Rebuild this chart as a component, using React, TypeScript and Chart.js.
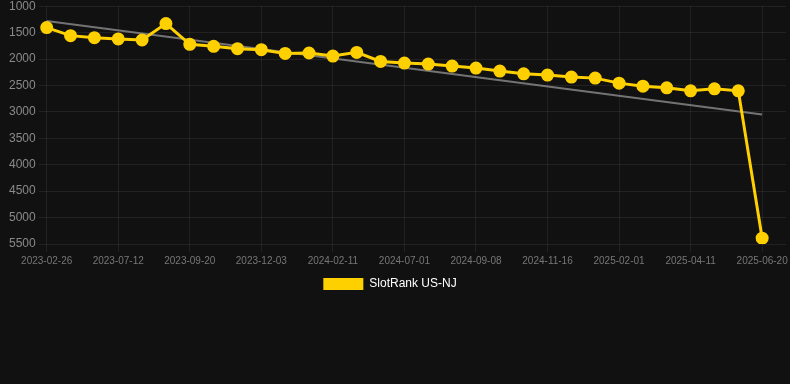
import React, { useEffect, useRef } from "react";
import { Chart, registerables } from "chart.js";

Chart.register(...registerables);

const dates: string[] = [
  "2023-02-26", "2023-05-14", "2023-06-19", "2023-07-12", "2023-08-04", "2023-08-27",
  "2023-09-20", "2023-10-14", "2023-11-08", "2023-12-03", "2023-12-26", "2024-01-18",
  "2024-02-11", "2024-04-18", "2024-06-07", "2024-07-01", "2024-07-24", "2024-08-16",
  "2024-09-08", "2024-10-01", "2024-10-24", "2024-11-16", "2024-12-12", "2025-01-07",
  "2025-02-01", "2025-02-24", "2025-03-19", "2025-04-11", "2025-05-04", "2025-05-27",
  "2025-06-20", "2025-07-13",
];

const rankValues: (number | null)[] = [
  1405, 1557, 1595, 1620, 1640, 1329, 1722, 1760, 1804, 1823, 1893, 1886, 1944, 1874,
  2045, 2076, 2095, 2133, 2171, 2228, 2279, 2304, 2342, 2361, 2456, 2513, 2545, 2601,
  2563, 2601, 5390, null,
];

const trendStart = 1280;
const trendEnd = 3050;
const trendEndIndex = 30;

const seriesLabel = "SlotRank US-NJ";

const legendShift = {
  id: "legendShift",
  afterLayout(chart: any) {
    const lg = chart.legend;
    if (!lg) return;
    lg.left -= 10;
    lg.right -= 10;
    lg.top -= 2;
    lg.bottom -= 2;
  },
};

export default function App() {
  const ref = useRef<HTMLCanvasElement | null>(null);

  useEffect(() => {
    document.body.style.margin = "0";
    document.body.style.background = "#111111";
    if (!ref.current) return;
    const trend: (number | null)[] = dates.map((_, i) =>
      i === 0 ? trendStart : i === trendEndIndex ? trendEnd : null
    );
    const chart = new Chart(ref.current, {
      type: "line",
      data: {
        labels: dates,
        datasets: [
          {
            label: seriesLabel,
            data: rankValues,
            borderColor: "#ffd000",
            backgroundColor: "#ffd000",
            borderWidth: 3,
            pointRadius: 5,
            pointBackgroundColor: "#ffd000",
            pointBorderColor: "#ffd000",
            tension: 0,
          },
          {
            label: "trend",
            data: trend,
            borderColor: "rgba(140,140,140,0.8)",
            backgroundColor: "rgba(140,140,140,0.8)",
            borderWidth: 2,
            pointRadius: 0,
            spanGaps: true,
          },
        ],
      },
      plugins: [legendShift],
      options: {
        animation: false,
        responsive: true,
        maintainAspectRatio: false,
        layout: { padding: { left: 6, right: 0 } },
        scales: {
          x: {
            offset: false,
            grid: { color: "rgba(255,255,255,0.07)" },
            border: { display: false },
            ticks: {
              autoSkip: false,
              maxRotation: 0,
              color: "#777777",
              font: { family: "'Liberation Sans', Arial, sans-serif", size: 10 },
              callback: (_v: any, i: number) => (i % 3 === 0 ? dates[i] : null),
            },
          },
          y: {
            reverse: true,
            min: 1000,
            max: 5500,
            grid: { color: "rgba(255,255,255,0.07)" },
            border: { display: false },
            ticks: {
              stepSize: 500,
              color: "#8a8a8a",
              font: { family: "'Liberation Sans', Arial, sans-serif", size: 12 },
              callback: (v: any) => String(v),
            },
          },
        },
        plugins: {
          legend: {
            position: "bottom",
            labels: {
              color: "#ffffff",
              boxWidth: 40,
              boxHeight: 12,
              font: { family: "'Liberation Sans', Arial, sans-serif", size: 12 },
              filter: (item: any) => item.text === seriesLabel,
              generateLabels: (c: any) =>
                Chart.defaults.plugins.legend.labels
                  .generateLabels(c)
                  .map((it: any) => ({ ...it, lineWidth: 0 })),
            },
          },
          tooltip: { enabled: false },
        },
      },
    });
    return () => chart.destroy();
  }, []);

  return (
    <div style={{ width: 790, height: 384, overflow: "hidden", background: "#111111" }}>
      <div style={{ width: 794, height: 306, marginTop: -4 }}>
        <canvas ref={ref} />
      </div>
    </div>
  );
}
